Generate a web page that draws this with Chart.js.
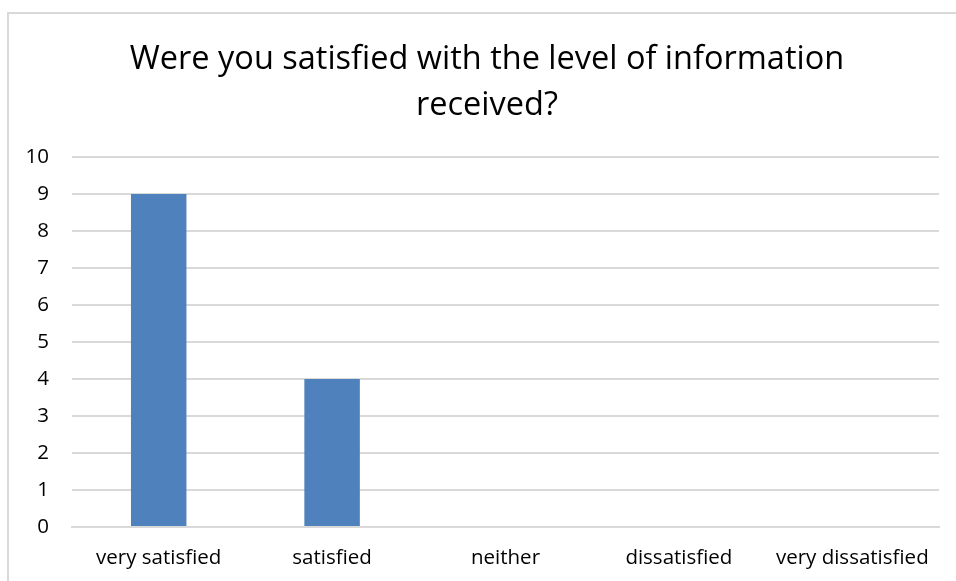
<!DOCTYPE html>
<html>
<head>
<meta charset="utf-8">
<script src="https://cdn.jsdelivr.net/npm/chart.js@4.4.1/dist/chart.umd.min.js"></script>
<style>
  html, body { margin: 0; padding: 0; background: #fff; overflow: hidden; }
  #frame {
    position: absolute; left: 7px; top: 12px;
    width: 980px; height: 620px;
    border: 2px solid #d9d9d9; box-sizing: border-box;
  }
  #wrap { position: absolute; left: 0; top: 0; width: 956px; height: 581px; }
</style>
</head>
<body>
<div id="frame"></div>
<div id="wrap"><canvas id="barChart"></canvas></div>
<script>
var categories = ["very satisfied", "satisfied", "neither", "dissatisfied", "very dissatisfied"];
var responses = [9, 4, 0, 0, 0];
var yTicks = [0, 1, 2, 3, 4, 5, 6, 7, 8, 9, 10];
var chartTitle = ["Were you satisfied with the level of information", "received?"];

// centre the title on the framed box rather than the full canvas
var titleShift = {
    id: 'titleShift',
    afterLayout: function (chart) {
        if (chart.titleBlock) chart.titleBlock.left = 35;
    }
};

document.addEventListener('DOMContentLoaded', function () {
    var ctx = document.getElementById('barChart').getContext('2d');
    var font = "'Open Sans', 'Noto Sans', sans-serif";

    new Chart(ctx, {
        type: 'bar',
        data: {
            labels: categories,
            datasets: [{
                label: 'Responses',
                data: responses,
                backgroundColor: '#4f81bd',
                categoryPercentage: 1,
                barPercentage: 0.32
            }]
        },
        plugins: [titleShift],
        options: {
            responsive: true,
            maintainAspectRatio: false,
            animation: false,
            layout: { padding: { top: 37, right: 17, left: 0, bottom: 0 } },
            plugins: {
                legend: { display: false },
                tooltip: { enabled: false },
                title: {
                    display: true,
                    text: chartTitle,
                    color: '#000',
                    font: { family: font, size: 32.5, weight: 'normal', lineHeight: 1.4 },
                    padding: { top: 0, bottom: 29 }
                }
            },
            scales: {
                x: {
                    grid: { display: false },
                    border: { display: true, color: '#d9d9d9', width: 2 },
                    ticks: {
                        color: '#000',
                        font: { family: font, size: 20.5 },
                        padding: 11,
                        maxRotation: 0
                    },
                    afterFit: function (scale) { scale.height = 54; }
                },
                y: {
                    min: 0,
                    max: 10,
                    afterBuildTicks: function (scale) {
                        scale.ticks = yTicks.map(function (v) { return { value: v }; });
                    },
                    grid: { color: '#d9d9d9', lineWidth: 2, drawTicks: false },
                    border: { display: false },
                    ticks: {
                        color: '#000',
                        font: { family: font, size: 20.5 },
                        padding: 23
                    },
                    afterFit: function (scale) { scale.width = 72; }
                }
            }
        }
    });
});
</script>
</body>
</html>
